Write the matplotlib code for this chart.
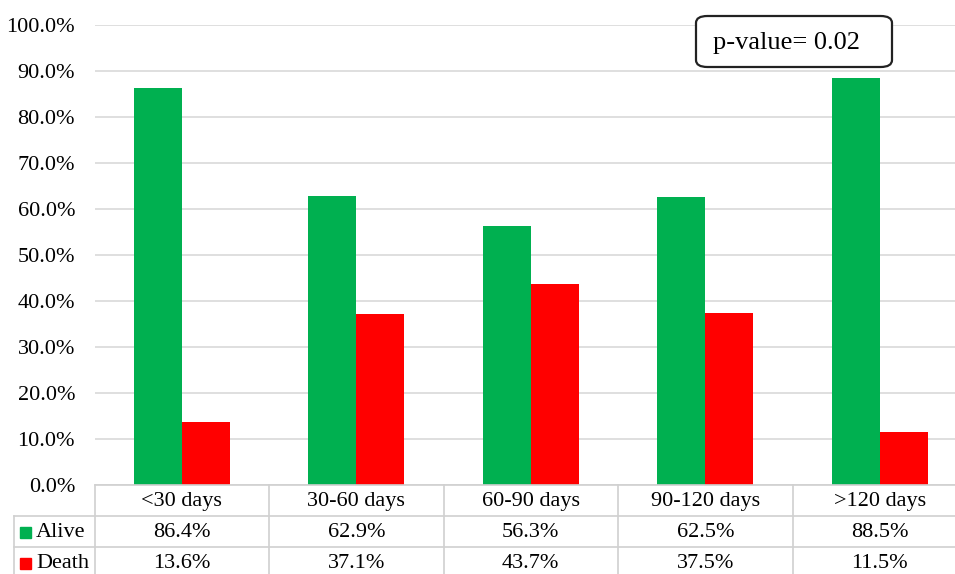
"""Survival share by time interval, bar chart with data table below."""

import matplotlib

matplotlib.use("Agg")
import matplotlib.pyplot as plt
from matplotlib.patches import FancyBboxPatch, Rectangle
import numpy as np

categories = ["<30 days", "30-60 days", "60-90 days", "90-120 days", ">120 days"]
alive = [86.4, 62.9, 56.3, 62.5, 88.5]
death = [13.6, 37.1, 43.7, 37.5, 11.5]
series_names = ["Alive", "Death"]
series_colors = ["#00B050", "#FF0000"]
yticks = [0, 10, 20, 30, 40, 50, 60, 70, 80, 90, 100]
p_text = "p-value= 0.02"

W, H = 955, 574
plt.rcParams["font.family"] = ["Liberation Serif", "DejaVu Serif"]
fig = plt.figure(figsize=(W / 100, H / 100), dpi=100)

# plot area in pixel coords (right edge runs past the image, as in the reference)
px0, px1 = 94.5, 967
py_top, py_zero = 25, 485
ax = fig.add_axes([px0 / W, 1 - py_zero / H, (px1 - px0) / W, (py_zero - py_top) / H])
x = np.arange(len(categories))
bw = 0.275
ax.bar(x - bw / 2, alive, bw, color=series_colors[0])
ax.bar(x + bw / 2, death, bw, color=series_colors[1])
ax.set_xlim(-0.5, len(categories) - 0.5)
ax.set_ylim(0, 100)
ax.set_yticks(yticks)
ax.set_yticklabels([f"{v:.1f}%" for v in yticks], fontsize=16)
ax.set_xticks([])
ax.tick_params(axis="y", length=0, pad=14)
ax.grid(axis="y", color="#d9d9d9", linewidth=1.2)
ax.set_axisbelow(True)
for s in ax.spines.values():
    s.set_visible(False)

# p-value box
box = FancyBboxPatch((696 / W, 1 - 67 / H), 196 / W, 51 / H,
                     boxstyle="round,pad=0,rounding_size=0.012",
                     transform=fig.transFigure, facecolor="white",
                     edgecolor="#222222", linewidth=1.6, zorder=5)
fig.add_artist(box)
fig.text(786 / W, 1 - 43 / H, p_text, ha="center", va="center", fontsize=19, zorder=6)

# data table
tax = fig.add_axes([0, 0, 1, 1], facecolor="none")
tax.set_xlim(0, W)
tax.set_ylim(H, 0)
tax.axis("off")
grid_c = "#d0d0d0"
row_y = [485, 516, 547, 578]
col_x = [px0 + i * (px1 - px0) / len(categories) for i in range(len(categories) + 1)]
left_x = 14
tax.plot([px0, px1], [row_y[0]] * 2, color=grid_c, lw=1.2)
for yy in row_y[1:]:
    tax.plot([left_x, px1], [yy] * 2, color=grid_c, lw=1.2)
for xx in col_x:
    tax.plot([xx, xx], [row_y[0], row_y[-1]], color=grid_c, lw=1.2)
tax.plot([left_x, left_x], [row_y[1], row_y[-1]], color=grid_c, lw=1.2)

for i, cat in enumerate(categories):
    cx = (col_x[i] + col_x[i + 1]) / 2
    tax.text(cx, (row_y[0] + row_y[1]) / 2 + 1, cat, ha="center", va="center", fontsize=16)
    tax.text(cx, (row_y[1] + row_y[2]) / 2 + 1, f"{alive[i]:.1f}%", ha="center", va="center", fontsize=16)
    tax.text(cx, (row_y[2] + row_y[3]) / 2 + 1, f"{death[i]:.1f}%", ha="center", va="center", fontsize=16)

for r, (name, col) in enumerate(zip(series_names, series_colors)):
    yc = (row_y[r + 1] + row_y[r + 2]) / 2
    tax.add_patch(Rectangle((20, yc - 5), 11, 11, color=col))
    tax.text(36, yc + 1, name, ha="left", va="center", fontsize=16)

fig.savefig("out.png", dpi=100)
